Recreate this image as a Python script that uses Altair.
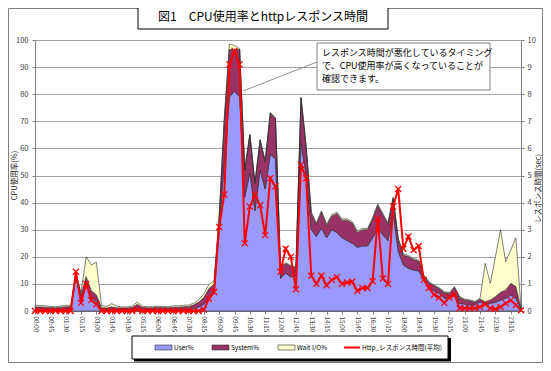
import altair as alt
import pandas as pd

FONT = "Noto Sans CJK JP"

times = [f"{h:02d}:{m:02d}" for h in range(24) for m in (0, 15, 30, 45)]
tick_labels = times[::3]

user = [0.5, 0.5, 0.5, 0.4, 0.4, 0.5, 0.6, 0.7,
        12.5, 3.5, 9.5, 5.0, 3.5, 0.4, 0.4, 0.6,
        0.4, 0.4, 0.4, 0.5, 1.3, 0.5, 0.4, 0.4,
        0.5, 0.5, 0.4, 0.5, 0.5, 0.6, 0.6, 0.9,
        1.5, 2.5, 4.5, 6.5, 30, 55, 79, 81,
        79, 42, 51, 37, 52, 45, 58, 56,
        12, 14, 12.5, 13, 62, 50, 30, 27.5,
        30.5, 27, 30, 29, 27, 26, 25, 23.5,
        24, 24, 27, 30.5, 28, 26, 36, 22,
        17, 15.7, 15.1, 14.8, 11.4, 8.4, 7.4, 6.5,
        4.7, 4.7, 6.5, 2.8, 2.5, 2.2, 2.2, 3.4,
        2.2, 2.8, 3.2, 4.0, 4.7, 5.9, 4.7, 0.7]
system = [1.0, 1.0, 0.9, 0.9, 0.8, 0.9, 1.0, 1.0,
          1.0, 2.5, 3.2, 2.5, 2.5, 0.8, 0.7, 0.9,
          0.8, 0.7, 0.7, 0.8, 1.2, 0.8, 0.8, 0.8,
          0.9, 0.8, 0.8, 0.9, 0.9, 1.0, 1.1, 1.3,
          1.8, 2.5, 3.8, 3.5, 4.0, 15, 17.5, 15.5,
          17.5, 10, 14, 10, 11, 10, 15, 15,
          4, 3.5, 4, 3, 16.5, 10.5, 6, 4.5,
          6, 4.5, 5, 7, 6.5, 7.5, 7.5, 5.5,
          6, 6, 7, 8.5, 7.5, 6, 5.5, 4.5,
          3.6, 4.4, 3.9, 3.6, 1.6, 2.1, 1.9, 1.8,
          2.1, 1.8, 2.2, 2.2, 1.6, 1.6, 1.0, 1.0,
          1.2, 1.3, 2.1, 2.9, 3.0, 4.3, 4.3, 0.3]
waitio = [0.6, 0.5, 0.5, 0.4, 0.4, 0.4, 0.5, 0.4,
          0.3, 0.8, 7.3, 9.5, 12.0, 0.8, 0.6, 1.2,
          0.6, 0.4, 0.4, 0.5, 0.8, 0.4, 0.4, 0.4,
          0.4, 0.4, 0.4, 0.5, 0.5, 0.5, 0.5, 0.6,
          0.8, 1.3, 1.5, 1.2, 1.0, 1.5, 2.0, 1.5,
          0.3, 0.4, 0.3, 0.3, 0.3, 0.3, 0.3, 0.3,
          0.3, 0.3, 0.3, 0.3, 0.5, 0.5, 0.5, 0.5,
          0.5, 0.5, 0.5, 0.5, 0.5, 0.5, 0.5, 0.5,
          0.5, 0.5, 0.5, 0.5, 0.5, 0.5, 0.5, 0.5,
          0.4, 0.4, 0.4, 0.4, 0.3, 0.3, 0.3, 0.3,
          0.3, 0.3, 0.3, 0.3, 0.3, 0.3, 0.3, 0.3,
          14.2, 6.1, 14.7, 23.1, 10.5, 12.3, 18.0, 0.2]
resp = [0.0, 0.0, 0.0, 0.0, 0.0, 0.0, 0.0, 0.0,
        1.45, 0.3, 1.0, 0.4, 0.25, 0.0, 0.0, 0.0,
        0.0, 0.0, 0.0, 0.0, 0.05, 0.0, 0.0, 0.0,
        0.0, 0.0, 0.0, 0.0, 0.0, 0.0, 0.0, 0.0,
        0.0, 0.05, 0.45, 0.7, 3.1, 4.3, 9.1, 9.6,
        9.1, 2.5, 3.85, 4.3, 3.9, 2.8, 4.9, 4.6,
        1.45, 2.3, 2.0, 0.8, 5.4, 4.9, 1.3, 1.0,
        1.3, 0.95, 1.15, 1.25, 1.0, 1.05, 1.08, 0.75,
        0.85, 0.85, 1.1, 3.4, 1.2, 1.0, 3.85, 4.5,
        2.3, 2.75, 2.25, 2.4, 1.15, 0.85, 0.6, 0.5,
        0.3, 0.5, 0.6, 0.1, 0.1, 0.1, 0.1, 0.15,
        0.25, 0.1, 0.07, 0.15, 0.28, 0.4, 0.22, 0.03]

series_names = ["User%", "System%", "Wait I/O%"]
series_colors = ["#9999FF", "#993366", "#FFFFCC"]
line_name = "Http_レスポンス時間(平均)"
line_color = "#FF0000"
title_text = "図1　CPU使用率とhttpレスポンス時間"
note_lines = ["レスポンス時間が悪化しているタイミング",
              "で、CPU使用率が高くなっていることが",
              "確認できます。"]
y_left_title = "CPU使用率(%)"
y_right_title = "レスポンス時間(sec)"
cpu_ticks = list(range(0, 101, 10))
rt_ticks = list(range(0, 11))

assert len(user) == len(system) == len(waitio) == len(resp) == len(times)

area_df = pd.DataFrame({
    "time": times * 3,
    "series": [s for s in series_names for _ in times],
    "ord": [k for k in range(3) for _ in times],
    "value": user + system + waitio,
})
rt_df = pd.DataFrame({"time": times, "rt": resp})
one = pd.DataFrame({"k": [0]})

W, H = 486, 271

x_enc = alt.X("time:O",
              scale=alt.Scale(type="point", domain=times, padding=0),
              axis=alt.Axis(values=tick_labels, labelAngle=90, title=None,
                            labelFontSize=6.3, tickSize=3, labelPadding=2))

areas = alt.Chart(area_df).mark_area(
    stroke="#2b2b2b", strokeWidth=0.6, opacity=1, interpolate="linear"
).encode(
    x=x_enc,
    y=alt.Y("value:Q", stack="zero",
            scale=alt.Scale(domain=[0, 100], nice=False),
            axis=alt.Axis(values=cpu_ticks, title=y_left_title, grid=True,
                          gridColor="#8c8c8c", gridWidth=0.8, tickSize=3,
                          labelPadding=4, labelFontSize=7.5, titleFontSize=7.5,
                          titleFontWeight="normal",
                          titleAngle=270, titleX=-21, titleY=135,
                          titleAlign="center", titleBaseline="middle")),
    color=alt.Color("series:N", scale=alt.Scale(domain=series_names, range=series_colors),
                    legend=None),
    order=alt.Order("ord:Q", sort="ascending"),
)

rt_y = alt.Y("rt:Q", scale=alt.Scale(domain=[0, 10], nice=False),
             axis=alt.Axis(orient="right", values=rt_ticks, title=y_right_title,
                           grid=False, tickSize=3, labelPadding=3,
                           labelFontSize=7.5, titleFontSize=7.5,
                           titleFontWeight="normal",
                           titleAngle=270, titleX=17.5, titleY=148,
                           titleAlign="center", titleBaseline="middle"))
rt_line = alt.Chart(rt_df).mark_line(color=line_color, strokeWidth=2).encode(x=x_enc, y=rt_y)
rt_pts = alt.Chart(rt_df).mark_point(
    shape="M-1,-1L1,1M-1,1L1,-1", size=36, color=line_color,
    strokeWidth=1.3, filled=False, opacity=1
).encode(x=x_enc, y=rt_y)
rt_layer = alt.layer(rt_line, rt_pts)

# decorations
border = alt.Chart(one).mark_rect(fillOpacity=0, stroke="#7f7f7f", strokeWidth=1).encode(
    x=alt.value(-26.5), x2=alt.value(507.5), y=alt.value(-31.5), y2=alt.value(322.5))

title_box = alt.Chart(one).mark_rect(fill="white", stroke="black", strokeWidth=1).encode(
    x=alt.value(103), x2=alt.value(353), y=alt.value(-35), y2=alt.value(-11))
title = alt.Chart(one).mark_text(font=FONT, fontSize=12, align="center",
                                 baseline="middle", color="black").encode(
    x=alt.value(228), y=alt.value(-23), text=alt.value(title_text))

leader = alt.Chart(one).mark_rule(color="#909090", strokeWidth=1).encode(
    x=alt.value(208), y=alt.value(51), x2=alt.value(282), y2=alt.value(22))
note_box = alt.Chart(one).mark_rect(fill="white", stroke="#808080", strokeWidth=1).encode(
    x=alt.value(282), x2=alt.value(455), y=alt.value(3), y2=alt.value(50))
note = alt.Chart(one).mark_text(font=FONT, fontSize=9, align="left", baseline="top",
                                lineHeight=13, color="black").encode(
    x=alt.value(287), y=alt.value(9), text=alt.value(note_lines))

# legend
lg_y0, lg_y1 = 296, 319
lg_x0, lg_x1 = 97, 413
lg_mid = (lg_y0 + lg_y1) / 2
lg_shadow = alt.Chart(one).mark_rect(fill="black").encode(
    x=alt.value(lg_x0 + 2), x2=alt.value(lg_x1 + 3), y=alt.value(lg_y0 + 2), y2=alt.value(lg_y1 + 2.5))
lg_box = alt.Chart(one).mark_rect(fill="white", stroke="black", strokeWidth=1).encode(
    x=alt.value(lg_x0), x2=alt.value(lg_x1), y=alt.value(lg_y0), y2=alt.value(lg_y1))
legend_layers = [lg_shadow, lg_box]
sw_x = [120, 177, 243]
for name, col, sx in zip(series_names, series_colors, sw_x):
    legend_layers.append(alt.Chart(one).mark_rect(fill=col, stroke="#2b2b2b", strokeWidth=0.6).encode(
        x=alt.value(sx), x2=alt.value(sx + 17), y=alt.value(lg_mid - 2.5), y2=alt.value(lg_mid + 2.5)))
    legend_layers.append(alt.Chart(one).mark_text(font=FONT, fontSize=6.5, align="left",
                                                  baseline="middle", color="black").encode(
        x=alt.value(sx + 19), y=alt.value(lg_mid), text=alt.value(name)))
legend_layers.append(alt.Chart(one).mark_rule(color=line_color, strokeWidth=2).encode(
    x=alt.value(309), x2=alt.value(325), y=alt.value(lg_mid)))
legend_layers.append(alt.Chart(one).mark_text(font=FONT, fontSize=6.5, align="left",
                                              baseline="middle", color="black").encode(
    x=alt.value(327), y=alt.value(lg_mid), text=alt.value(line_name)))

chart = alt.layer(
    border, areas, rt_layer, leader, note_box, note, title_box, title, *legend_layers
).resolve_scale(y="independent").properties(
    width=W, height=H,
    padding={"left": 27, "top": 32, "right": 22, "bottom": 52},
    autosize=alt.AutoSizeParams(type="none"),
    background="white",
).configure_view(stroke=None).configure_axis(
    labelFont=FONT, titleFont=FONT, labelColor="#404040", titleColor="#202020",
    domainColor="#7f7f7f", tickColor="#7f7f7f"
)

chart.save("out.html", embed_options={"renderer": "svg", "actions": False})
